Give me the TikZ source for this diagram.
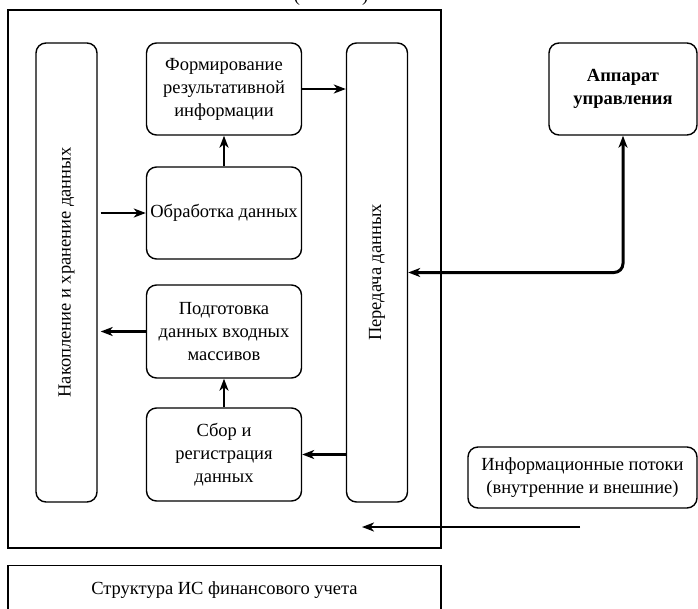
\documentclass[tikz,border=0pt]{standalone}
\usepackage{fontspec}
\setmainfont{Liberation Serif}
\usepackage{tikz}
\usetikzlibrary{positioning}
\usetikzlibrary{arrows.meta}
\usetikzlibrary{calc}

\begin{document}
\begin{tikzpicture}[x=1pt, y=-1pt, >={Stealth[length=12pt,width=9pt,inset=3.5pt]},
txt/.style={font=\fontsize{18.5}{23}\selectfont},
blk/.style={draw, line width=1.4pt, rounded corners=10pt, align=center, inner sep=0.5pt,
  minimum width=#1, txt},
blk/.default=155pt,
col/.style={draw, line width=1.4pt, rounded corners=10pt, minimum width=61pt, minimum height=459pt},
flow/.style={->, line width=2.5pt}]
\useasboundingbox (0,0) rectangle (698,608);
\clip (0,0) rectangle (698,608);

% title above (cut off)
\node [anchor=base, txt] (ttl) at (331,1) {(\hspace{62pt})};

% frame
\draw [line width=1.4pt] (8,10) rectangle (441,548);

% columns
\node [col] (nak) at (66.5,272.5) {};
\node [rotate=90, txt] at (nak.center) {Накопление и хранение данных};
\node [col] (pered) at (377,272.5) {};
\node [rotate=90, txt] at (pered.center) {Передача данных};

% middle blocks
\node [blk, minimum height=92pt] (form) at (224,89) {Формирование\\результативной\\информации};
\node [blk, minimum height=92pt] (obr) at (224,213) {Обработка данных};
\node [blk, minimum height=93pt] (podg) at (224,331.5) {Подготовка\\данных входных\\массивов};
\node [blk, minimum height=93pt] (sbor) at (224,454.5) {Сбор и\\регистрация\\данных};

% outside
\node [blk=148pt, minimum height=92pt, font=\fontsize{18.5}{23}\selectfont\bfseries] (app) at (623,89) {Аппарат\\управления};
\node [blk=229pt, minimum height=61pt] (potoki) at (582.5,477.5) {Информационные потоки\\(внутренние и внешние)};

% caption
\node [draw, line width=1.4pt, minimum width=433pt, minimum height=50pt, anchor=north] (cap) at (224.5,565) {};
\node [txt] at (224.5,590) {Структура ИС финансового учета};

% arrows
\draw [flow] (form.east) -- (form.east -| pered.west);
\draw [flow] (obr.north) -- (form.south);
\draw [flow] ($(nak.east |- obr)+(3,0)$) -- (obr.west);
\draw [flow] (podg.west) -- ($(nak.east |- podg)+(3,0)$);
\draw [flow] (sbor.north) -- (podg.south);
\draw [flow] (pered.west |- sbor) -- (sbor.east);
\draw [<->, line width=3pt, rounded corners=9pt] (app.south) |- (pered.east);

\coordinate (vyh) at (580,527);
\coordinate (vhod) at (362,527);
\draw [flow] (vyh) -- (vhod);
\end{tikzpicture}
\end{document}
